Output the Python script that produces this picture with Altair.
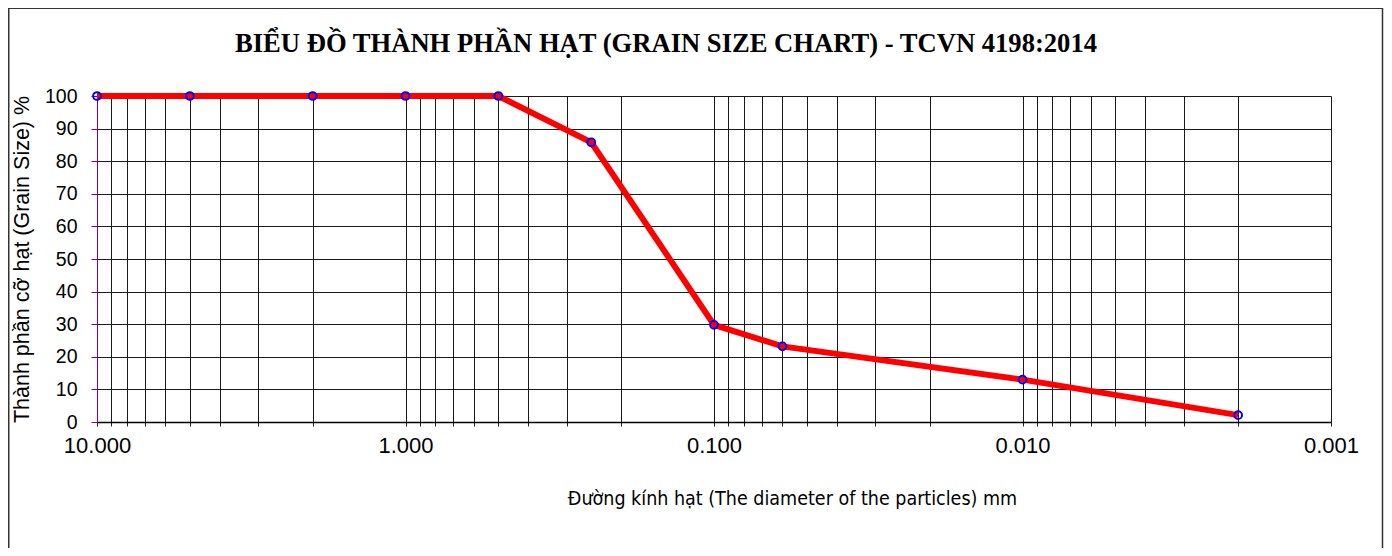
import altair as alt
import pandas as pd

# Data
sizes_mm = [10, 5, 2, 1, 0.5, 0.25, 0.1, 0.06, 0.01, 0.002]
passing_pct = [100, 100, 100, 100, 100, 85.8, 29.8, 23.2, 13.0, 2.1]

# Axis ticks / gridlines
x_grid_ticks = [10, 9, 8, 7, 6, 5, 4, 3, 2,
                1, 0.9, 0.8, 0.7, 0.6, 0.5, 0.4, 0.3, 0.2,
                0.1, 0.09, 0.08, 0.07, 0.06, 0.05, 0.04, 0.03, 0.02,
                0.01, 0.009, 0.008, 0.007, 0.006, 0.005, 0.004, 0.003, 0.002,
                0.001]
x_label_ticks = ["10", "1", "0.1", "0.01", "0.001"]
y_ticks = [0, 10, 20, 30, 40, 50, 60, 70, 80, 90, 100]

title_text = "BIỂU ĐỒ THÀNH PHẦN HẠT (GRAIN SIZE CHART) - TCVN 4198:2014"
x_title = "Đường kính hạt (The diameter of the particles) mm"
y_title = "Thành phần cỡ hạt (Grain Size) %"

df = pd.DataFrame({"d": sizes_mm, "p": passing_pct})

W, H = 1234, 326
PAD_L, PAD_T = 89, 88
TOTAL_W, TOTAL_H = 1376, 540

label_list = "[" + ",".join("'" + s + "'" for s in x_label_ticks) + "]"

x_axis = alt.Axis(
    values=x_grid_ticks,
    labelExpr=f"indexof({label_list}, toString(datum.value)) >= 0 ? format(datum.value, '.3f') : ''",
    labelOverlap=False,
    labelFlush=False,
    labelFont="Liberation Sans",
    labelFontSize=22,
    labelColor="#000",
    labelPadding=9,
    tickSize=4,
    tickColor="#222",
    domainColor="#000",
    domainWidth=1.5,
    grid=True,
    gridColor="#1a1a1a",
    gridWidth=1,
    title=x_title,
    titleFont="DejaVu Sans Condensed, Liberation Sans",
    titleFontSize=19.5,
    titleFontWeight="normal",
    titleColor="#000",
    titleBaseline="middle",
    titleAlign="center",
    titleAnchor="start",
    titleX=695,
    titleY=76,
)

y_axis = alt.Axis(
    values=y_ticks,
    tickCount=11,
    labelOverlap=False,
    labelFont="Liberation Sans",
    labelFontSize=19.5,
    labelColor="#000",
    labelPadding=14,
    tickSize=6,
    tickColor="#800080",
    domainColor="#800080",
    domainWidth=1,
    grid=True,
    gridColor="#1a1a1a",
    gridWidth=1,
    title=y_title,
    titleFont="Liberation Sans",
    titleFontSize=21.5,
    titleFontWeight="normal",
    titleColor="#000",
    titleBaseline="middle",
    titleAlign="center",
    titleAngle=270,
    titleX=-75,
    titleY=163,
)

x_scale = alt.Scale(type="log", domain=[0.001, 10], reverse=True, nice=False)
y_scale = alt.Scale(domain=[0, 100], nice=False)

base = alt.Chart(df)

line = base.mark_line(color="#ff0000", strokeWidth=6, clip=False).encode(
    x=alt.X("d:Q", scale=x_scale, axis=x_axis),
    y=alt.Y("p:Q", scale=y_scale, axis=y_axis),
)
pts = base.mark_point(shape="circle", filled=False, color="#0000ff", size=60,
                      strokeWidth=2, opacity=1).encode(
    x=alt.X("d:Q", scale=x_scale, axis=x_axis),
    y=alt.Y("p:Q", scale=y_scale, axis=y_axis),
)

frame = alt.Chart(pd.DataFrame({"k": [0]})).mark_rect(
    fill=None, stroke="#333", strokeWidth=1.5, clip=False
).encode(
    x=alt.value(-PAD_L + 0.75),
    x2=alt.value(TOTAL_W - PAD_L - 1.5),
    y=alt.value(-PAD_T + 0.25),
    y2=alt.value(TOTAL_H - PAD_T + 10),
)

title_mark = alt.Chart(pd.DataFrame({"t": [title_text]})).mark_text(
    font="Liberation Serif", fontSize=26.6, fontWeight="bold", color="#000",
    align="center", baseline="middle", clip=False
).encode(
    text="t:N",
    x=alt.value(666 - 97),
    y=alt.value(44 - 96),
)

chart = alt.layer(line, pts, frame, title_mark).properties(
    width=W,
    height=H,
    padding={"left": PAD_L, "top": PAD_T, "right": TOTAL_W - PAD_L - W, "bottom": TOTAL_H - PAD_T - H},
    autosize=alt.AutoSizeParams(type="none"),
).configure_view(stroke="#333", strokeWidth=1.5).configure(background="white")

chart.save("out.html", embed_options={"renderer": "svg", "actions": False})
